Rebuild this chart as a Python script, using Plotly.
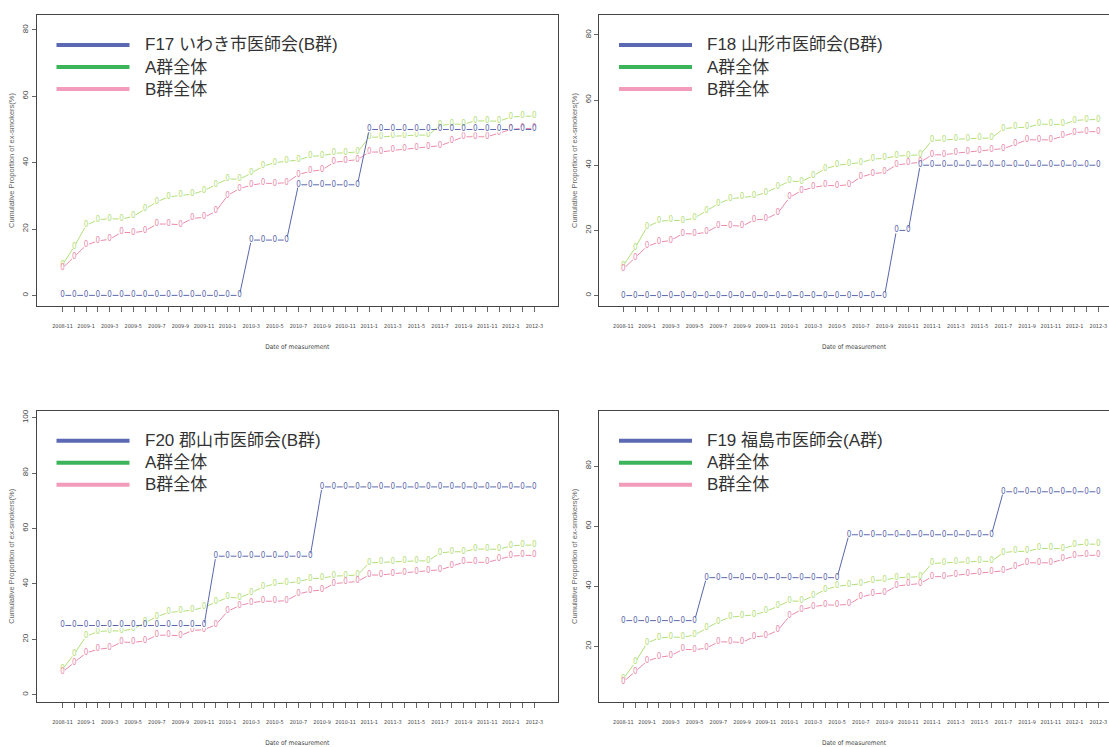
import plotly.graph_objects as go

# ---------------- data ----------------
months = ["2008-11", "2008-12", "2009-1", "2009-2", "2009-3", "2009-4", "2009-5", "2009-6",
          "2009-7", "2009-8", "2009-9", "2009-10", "2009-11", "2009-12", "2010-1", "2010-2",
          "2010-3", "2010-4", "2010-5", "2010-6", "2010-7", "2010-8", "2010-9", "2010-10",
          "2010-11", "2010-12", "2011-1", "2011-2", "2011-3", "2011-4", "2011-5", "2011-6",
          "2011-7", "2011-8", "2011-9", "2011-10", "2011-11", "2011-12", "2012-1", "2012-2",
          "2012-3"]

a_total = [9.2, 14.7, 21.1, 22.8, 23.1, 23.0, 23.8, 26.1, 28.2, 29.7, 30.2, 30.5, 31.6, 33.3,
           35.1, 35.0, 36.8, 38.9, 40.0, 40.4, 40.8, 41.9, 42.1, 42.8, 42.9, 43.2, 47.6, 47.8,
           47.9, 48.1, 48.3, 48.3, 51.2, 51.6, 51.6, 52.6, 52.6, 52.5, 53.7, 54.0, 54.0]

b_total = [8.2, 11.6, 15.1, 16.4, 16.9, 19.0, 18.9, 19.4, 21.5, 21.5, 21.3, 23.2, 23.5, 25.3,
           30.1, 32.2, 33.2, 33.8, 33.7, 34.0, 36.4, 37.4, 37.8, 40.1, 40.6, 40.9, 43.2, 43.2,
           43.7, 44.1, 44.4, 44.7, 45.1, 46.4, 47.8, 47.8, 47.8, 48.9, 50.0, 50.3, 50.3]

f17_iwaki = [0, 0, 0, 0, 0, 0, 0, 0, 0, 0, 0, 0, 0, 0, 0, 0,
             16.67, 16.67, 16.67, 16.67,
             33.33, 33.33, 33.33, 33.33, 33.33, 33.33,
             50, 50, 50, 50, 50, 50, 50, 50, 50, 50, 50, 50, 50, 50, 50]

f18_yamagata = [0, 0, 0, 0, 0, 0, 0, 0, 0, 0, 0, 0, 0, 0, 0, 0, 0, 0, 0, 0, 0, 0, 0,
                20, 20,
                40, 40, 40, 40, 40, 40, 40, 40, 40, 40, 40, 40, 40, 40, 40, 40]

f20_koriyama = [25, 25, 25, 25, 25, 25, 25, 25, 25, 25, 25, 25, 25,
                50, 50, 50, 50, 50, 50, 50, 50, 50,
                75, 75, 75, 75, 75, 75, 75, 75, 75, 75, 75, 75, 75, 75, 75, 75, 75, 75, 75]

f19_fukushima = [28.57, 28.57, 28.57, 28.57, 28.57, 28.57, 28.57,
                 42.86, 42.86, 42.86, 42.86, 42.86, 42.86, 42.86, 42.86, 42.86, 42.86, 42.86, 42.86,
                 57.14, 57.14, 57.14, 57.14, 57.14, 57.14, 57.14, 57.14, 57.14, 57.14, 57.14, 57.14, 57.14,
                 71.43, 71.43, 71.43, 71.43, 71.43, 71.43, 71.43, 71.43, 71.43]

panel_names = ["F17 いわき市医師会(B群)", "F18 山形市医師会(B群)",
               "F20 郡山市医師会(B群)", "F19 福島市医師会(A群)"]
panel_series = [f17_iwaki, f18_yamagata, f20_koriyama, f19_fukushima]
legend_a = "A群全体"
legend_b = "B群全体"
y_ticks = [[0, 20, 40, 60, 80], [0, 20, 40, 60, 80], [0, 20, 40, 60, 80, 100], [20, 40, 60, 80]]

# ---------------- layout geometry (pixels) ----------------
W, H = 1109, 747
boxes = [  # left, right, top, bottom
    (36.5, 558, 15, 306),
    (599, 1109, 15, 306),
    (36.5, 558, 410.7, 702),
    (599, 1109, 410.7, 702),
]
x_ranges = [[-2.2, 42.0], [-2.05, 40.9], [-2.2, 42.0], [-2.05, 40.9]]
y_ranges = [[-3.2, 84.5], [-3.2, 86.1], [-2.6, 102.5], [1.5, 98.4]]

BLUE = "#5a66aa"
GREEN = "#b3de78"
PINK = "#e98aab"
LEG_BLUE = "#5b68b3"
LEG_GREEN = "#3cb55a"
LEG_PINK = "#f29bbb"

SMALL_FONT = "Liberation Sans Narrow, DejaVu Sans Condensed, Arial Narrow, Liberation Sans, sans-serif"
LEG_FONT = "Liberation Sans, Arial, Noto Sans CJK JP, sans-serif"

fig = go.Figure()


def add_series(i, values, color):
    fig.add_trace(go.Scatter(
        x=months, y=values,
        mode="lines+markers+text",
        text=["0"] * len(values),
        textposition="middle center",
        textfont=dict(size=8, color=color, family=SMALL_FONT),
        line=dict(color=color, width=1),
        marker=dict(symbol="circle", size=6, color="white", line=dict(width=0)),
        xaxis=f"x{i}", yaxis=f"y{i}",
        showlegend=False, hoverinfo="x+y",
    ))


layout = {}
annotations = []
shapes = []
for k in range(4):
    i = k + 1
    left, right, top, bottom = boxes[k]
    add_series(i, a_total, GREEN)
    add_series(i, b_total, PINK)
    add_series(i, panel_series[k], BLUE)

    xs = "" if i == 1 else str(i)
    layout[f"xaxis{xs}"] = dict(
        domain=[left / W, right / W],
        anchor=f"y{i}",
        type="category",
        range=x_ranges[k],
        tickmode="array",
        tickvals=months,
        ticktext=[m if j % 2 == 0 else "" for j, m in enumerate(months)],
        tickangle=0,
        ticks="outside", ticklen=5, tickcolor="#666", tickwidth=1,
        ticklabelstandoff=9,
        tickfont=dict(size=5.5, color="#444", family=SMALL_FONT),
        showline=True, linecolor="#444", linewidth=1, mirror=True,
        showgrid=False, zeroline=False,
        title=dict(text="Date of measurement", standoff=16,
                   font=dict(size=6.5, color="#444", family=SMALL_FONT)),
        automargin=False,
    )
    layout[f"yaxis{xs}"] = dict(
        domain=[1 - bottom / H, 1 - top / H],
        anchor=f"x{i}",
        range=y_ranges[k],
        tickmode="array",
        tickvals=y_ticks[k],
        tickangle=-90,
        ticks="outside", ticklen=4, tickcolor="#666", tickwidth=1,
        tickfont=dict(size=8, color="#444", family="Liberation Sans, Arial, sans-serif"),
        showline=True, linecolor="#444", linewidth=1, mirror=(k % 2 == 0),
        showgrid=False, zeroline=False,
        title=dict(text="Cumulative Proportion of ex-smokers(%)", standoff=5,
                   font=dict(size=7.5, color="#666", family="Liberation Sans, Arial, sans-serif")),
        automargin=False,
    )

    # in-plot legend
    entries = [(panel_names[k], LEG_BLUE), (legend_a, LEG_GREEN), (legend_b, LEG_PINK)]
    row_dy = [30, 52, 74]
    for (label, col), dy in zip(entries, row_dy):
        yp = 1 - (top + dy) / H
        shapes.append(dict(type="line", xref="paper", yref="paper",
                           x0=(left + 20) / W, x1=(left + 93) / W, y0=yp, y1=yp,
                           line=dict(color=col, width=4)))
        annotations.append(dict(xref="paper", yref="paper", x=(left + 106) / W, y=yp,
                                xanchor="left", yanchor="middle", showarrow=False,
                                text=label,
                                font=dict(size=17, color="#333", family=LEG_FONT)))

fig.update_layout(
    width=W, height=H,
    margin=dict(l=0, r=0, t=0, b=0),
    paper_bgcolor="white", plot_bgcolor="white",
    showlegend=False,
    annotations=annotations,
    shapes=shapes,
    **layout,
)

fig.write_html("out.html",
               config={"displayModeBar": False},
               post_script="document.body.style.margin='0';document.body.style.overflow='hidden';")
